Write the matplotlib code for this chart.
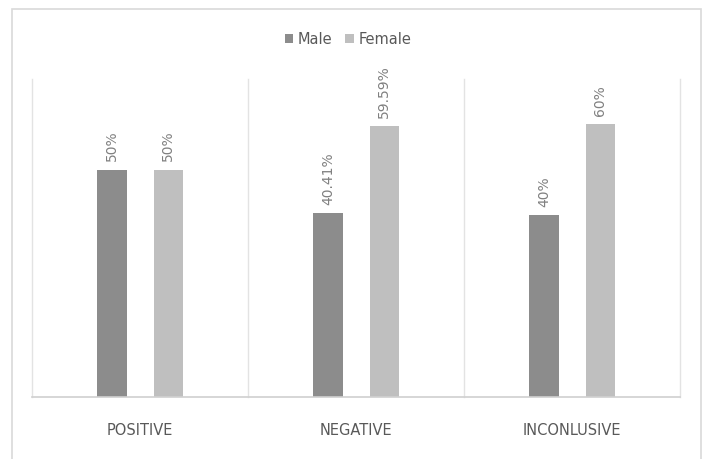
import matplotlib.pyplot as plt
import numpy as np
from matplotlib.patches import Rectangle

categories = ['POSITIVE', 'NEGATIVE', 'INCONLUSIVE']
male = [50, 40.41, 40]
female = [50, 59.59, 60]
male_labels = ['50%', '40.41%', '40%']
female_labels = ['50%', '59.59%', '60%']

fig = plt.figure(figsize=(7.04, 4.6), dpi=100)
ax = fig.add_axes([32 / 704, 62 / 460, 648 / 704, 318 / 460])

# outer chart frame
fig.patches.append(Rectangle((12 / 704, -0.05), 689 / 704, 1.05 - 10 / 460,
                             transform=fig.transFigure, fill=False,
                             edgecolor='#d9d9d9', linewidth=1.2))

x = np.arange(len(categories))
w = 0.135
off = 0.13
b1 = ax.bar(x - off, male, w, color='#8c8c8c', label='Male', zorder=3)
b2 = ax.bar(x + off, female, w, color='#bfbfbf', label='Female', zorder=3)

for bars, labels in [(b1, male_labels), (b2, female_labels)]:
    for rect, lab in zip(bars, labels):
        ax.annotate(lab, (rect.get_x() + rect.get_width() / 2, rect.get_height()),
                    xytext=(0, 7), textcoords='offset points', rotation=90,
                    ha='center', va='bottom', fontsize=10, color='#808080')

ax.set_xlim(-0.5, 2.5)
ax.set_ylim(0, 70)
for xv in [-0.5, 0.5, 1.5, 2.5]:
    ax.axvline(xv, color='#e3e3e3', linewidth=1, zorder=1, clip_on=False)

for s in ['top', 'left', 'right']:
    ax.spines[s].set_visible(False)
ax.spines['bottom'].set_color('#d0d0d0')
ax.spines['bottom'].set_linewidth(1.2)
ax.spines['bottom'].set_zorder(4)
ax.set_yticks([])
ax.set_xticks(x)
ax.set_xticklabels(categories, fontsize=10.5, color='#595959')
ax.tick_params(axis='x', length=0, pad=18)

leg = fig.legend(loc='center', bbox_to_anchor=(348 / 704, 1 - 40 / 460), ncol=2,
                 frameon=False, fontsize=10.5, handlelength=0.6, handleheight=0.6,
                 handletextpad=0.3, columnspacing=0.9)
for t in leg.get_texts():
    t.set_color('#595959')

fig.savefig('out.png', dpi=100)
